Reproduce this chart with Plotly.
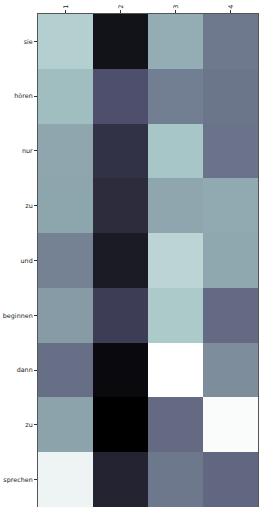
import numpy as np
import plotly.graph_objects as go

rows = ["sie", "hören", "nur", "zu", "und", "beginnen", "dann", "zu", "sprechen"]
cols = ["1", "2", "3", "4"]
values = [
    [0.215, 0.92, 0.337, 0.507],
    [0.283, 0.65, 0.489, 0.516],
    [0.359, 0.776, 0.252, 0.525],
    [0.364, 0.803, 0.359, 0.35],
    [0.476, 0.879, 0.192, 0.355],
    [0.395, 0.727, 0.235, 0.556],
    [0.538, 0.955, 0.0, 0.44],
    [0.37, 1.0, 0.556, 0.015],
    [0.049, 0.843, 0.51, 0.565],
]

# matplotlib "bone" segment data
R = [(0, 0), (0.746032, 0.652778), (1, 1)]
G = [(0, 0), (0.365079, 0.319444), (0.746032, 0.777778), (1, 1)]
B = [(0, 0), (0.365079, 0.444444), (1, 1)]

def interp(seg, t):
    xs = [s[0] for s in seg]
    ys = [s[1] for s in seg]
    return float(np.interp(t, xs, ys))

colorscale = []
for i in range(33):
    v = i / 32
    t = 1 - v  # bone_r
    r, g, b = (int(round(interp(s, t) * 255)) for s in (R, G, B))
    colorscale.append([v, f"rgb({r},{g},{b})"])

n_r = len(rows)
fig = go.Figure(go.Heatmap(
    z=values,
    x=list(range(len(cols))),
    y=list(range(n_r)),
    colorscale=colorscale,
    zmin=0, zmax=1,
    showscale=False,
    xgap=0, ygap=0,
))

fig.update_layout(
    width=262, height=507,
    margin=dict(l=38, r=4, t=14, b=0),
    paper_bgcolor="white", plot_bgcolor="white",
    font=dict(family="DejaVu Sans", size=6.4, color="#222"),
)
fig.update_xaxes(
    side="top", tickmode="array", tickvals=list(range(len(cols))), ticktext=cols,
    tickangle=-90, ticks="outside", ticklen=3, tickcolor="#333",
    showline=True, linecolor="#555", linewidth=1, mirror=True, automargin=False,
    range=[-0.5, len(cols) - 0.5], showgrid=False, zeroline=False,
)
fig.update_yaxes(
    tickmode="array", tickvals=list(range(n_r)), ticktext=rows,
    autorange=False, range=[n_r - 0.5, -0.5], ticks="outside", ticklen=3, tickcolor="#333",
    showline=True, linecolor="#555", linewidth=1, mirror=True, automargin=False,
    showgrid=False, zeroline=False,
)
fig.write_html(
    "out.html",
    config={"displayModeBar": False},
    post_script="document.body.style.margin='0';document.body.style.overflow='hidden';",
)
